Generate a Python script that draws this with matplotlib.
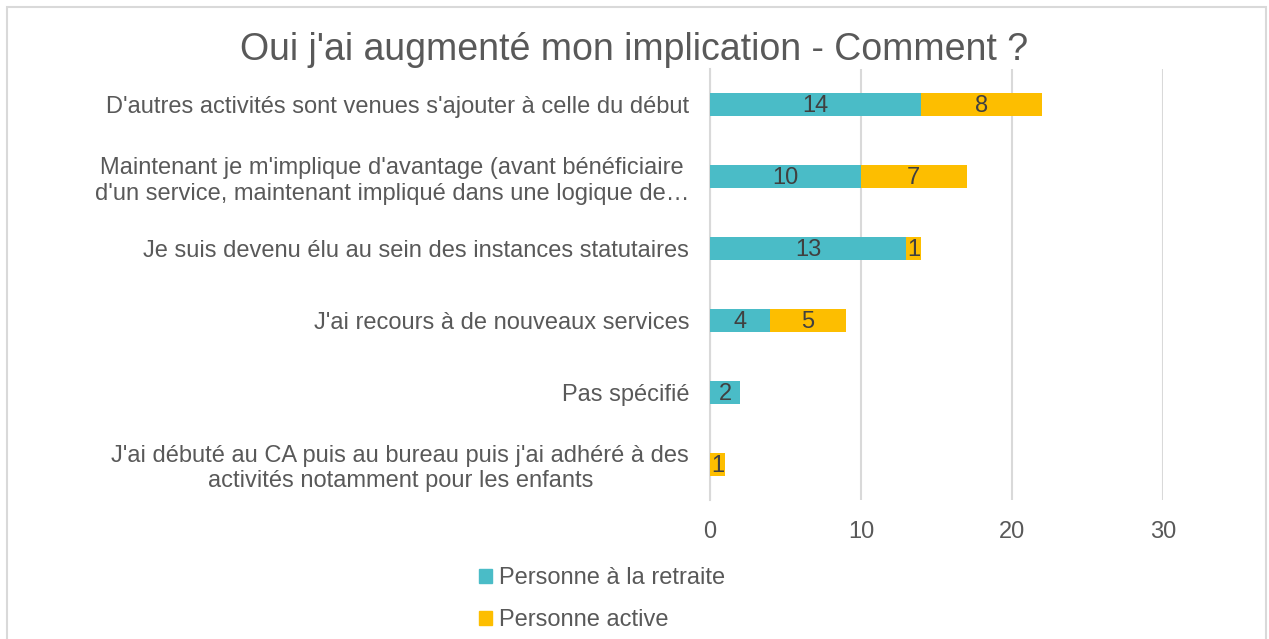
import matplotlib
matplotlib.use("Agg")
import matplotlib.pyplot as plt
from matplotlib.patches import Rectangle, Patch

plt.rcParams['font.family'] = ['Liberation Sans', 'DejaVu Sans']

title = "Oui j'ai augmenté mon implication - Comment ?"
categories = [
    "D'autres activités sont venues s'ajouter à celle du début",
    "Maintenant je m'implique d'avantage (avant bénéficiaire\nd'un service, maintenant impliqué dans une logique de…",
    "Je suis devenu élu au sein des instances statutaires",
    "J'ai recours à de nouveaux services",
    "Pas spécifié",
    "J'ai débuté au CA puis au bureau puis j'ai adhéré à des\nactivités notamment pour les enfants",
]
retraite = [14, 10, 13, 4, 2, 0]
active = [8, 7, 1, 5, 0, 1]
series_names = ["Personne à la retraite", "Personne active"]
xticks = [0, 10, 20, 30]

c_ret = "#4ABCC7"
c_act = "#FDBE00"
txt = "#595959"
lbl = "#404040"
fs = 17

W, H = 1269, 639
fig = plt.figure(figsize=(W / 100, H / 100), dpi=100)
fig.patches.append(Rectangle((7 / W, -0.1), (1266 - 7) / W, (H - 7) / H + 0.1,
                             transform=fig.transFigure, fill=False,
                             edgecolor="#D9D9D9", linewidth=1.5))

ax = fig.add_axes([710 / W, 1 - 500 / H, (1163 - 710) / W, (500 - 69) / H])
ypos = list(range(len(categories)))
bh = 0.32
ax.barh(ypos, retraite, height=bh, color=c_ret, zorder=3)
ax.barh(ypos, active, left=retraite, height=bh, color=c_act, zorder=3)
for y, r, a in zip(ypos, retraite, active):
    if r:
        ax.text(r / 2, y + 0.02, str(r), ha="center", va="center", fontsize=fs, color=lbl, zorder=4)
    if a:
        ax.text(r + a / 2, y + 0.02, str(a), ha="center", va="center", fontsize=fs, color=lbl, zorder=4)

ax.set_xlim(0, 30)
ax.set_ylim(len(categories) - 0.5, -0.5)
ax.set_xticks(xticks)
ax.set_xticklabels([str(t) for t in xticks], fontsize=fs, color=txt)
ax.set_yticks(ypos)
ax.set_yticklabels(categories, fontsize=fs, color=txt, multialignment="center",
                   linespacing=1.2)
ax.tick_params(axis="both", length=0)
ax.tick_params(axis="y", pad=15)
ax.tick_params(axis="x", pad=15)
ax.grid(axis="x", color="#D9D9D9", linewidth=1.5, zorder=0)
for s in ["top", "right", "bottom"]:
    ax.spines[s].set_visible(False)
ax.spines["left"].set_color("#D9D9D9")
ax.spines["left"].set_linewidth(1.5)

fig.text(0.5, 1 - 50 / H, title, ha="center", va="center", fontsize=27, color=txt)

handles = [Patch(color=c_ret), Patch(color=c_act)]
fig.legend(handles, series_names, loc="center left",
           bbox_to_anchor=(458 / W, 1 - 599 / H), frameon=False,
           fontsize=fs, labelcolor=txt, handlelength=0.55, handleheight=0.55,
           handletextpad=0.3, labelspacing=0.85)

fig.savefig("out.png", dpi=100)
